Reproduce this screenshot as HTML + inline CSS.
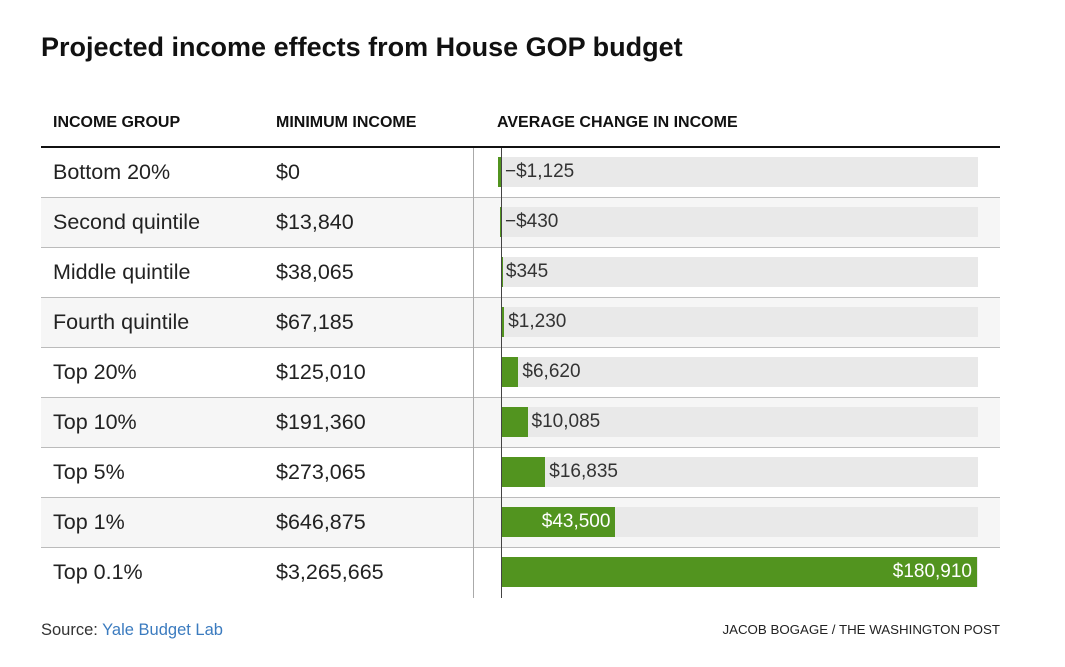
<!DOCTYPE html>
<html><head><meta charset="utf-8"><style>
body{margin:0;background:#fff;font-family:"Liberation Sans",sans-serif;color:#222;}
#wrap{position:relative;width:1065px;height:667px;}
.t{position:absolute;white-space:nowrap;}
</style></head><body>
<div id="wrap">
<div class="t" style="left:41px;top:32px;font-size:27px;font-weight:bold;color:#111;">Projected income effects from House GOP budget</div>
<div class="t" style="left:53px;top:114px;font-size:16px;font-weight:bold;color:#111;">INCOME GROUP</div>
<div class="t" style="left:276px;top:114px;font-size:16px;font-weight:bold;color:#111;">MINIMUM INCOME</div>
<div class="t" style="left:497px;top:114px;font-size:16px;font-weight:bold;color:#111;">AVERAGE CHANGE IN INCOME</div>
<div style="position:absolute;left:41px;top:146px;width:959px;height:2px;background:#111;"></div>
<div class="t" style="left:41px;top:621px;font-size:16.5px;color:#333;">Source: <span style="color:#3b7bbf;">Yale Budget Lab</span></div>
<div class="t" style="right:65px;top:622px;font-size:13.3px;color:#222;">JACOB BOGAGE / THE WASHINGTON POST</div>
</div>
<script>
const groups=["Bottom 20%","Second quintile","Middle quintile","Fourth quintile","Top 20%","Top 10%","Top 5%","Top 1%","Top 0.1%"];
const minIncome=["$0","$13,840","$38,065","$67,185","$125,010","$191,360","$273,065","$646,875","$3,265,665"];
const changes=[-1125,-430,345,1230,6620,10085,16835,43500,180910];
const labels=["\u2212$1,125","\u2212$430","$345","$1,230","$6,620","$10,085","$16,835","$43,500","$180,910"];
const wrap=document.getElementById('wrap');
const top0=148,rowH=50,x0=501,maxW=476,maxV=180910;
const xs=v=>v/maxV*maxW;
function add(css,name,txt){const d=document.createElement('div');d.style.cssText='position:absolute;'+css;


if(txt!==undefined)d.textContent=txt;wrap.appendChild(d);return d;}
groups.forEach((g,i)=>{
 const y=top0+i*rowH;
 if(i%2==1)add(`left:41px;top:${y}px;width:959px;height:${rowH}px;background:#f6f6f6;`,'row-background');
 if(i>0)add(`left:41px;top:${y-1}px;width:959px;height:1px;background:#bbb;`,'row-rule');
 add(`left:53px;top:${y+12}px;font-size:21.5px;color:#222;white-space:nowrap;`,'income-group-label',g);
 add(`left:276px;top:${y+12}px;font-size:21.5px;color:#222;white-space:nowrap;`,'minimum-income-value',minIncome[i]);
 add(`left:${x0+1}px;top:${y+9}px;width:${maxW}px;height:30px;background:#e9e9e9;`,'bar-track');
 const w=xs(changes[i]);const left=w<0?x0+w:x0;const ww=Math.max(Math.abs(w),1.5);
 add(`left:${left}px;top:${y+9}px;width:${ww}px;height:30px;background:#52941f;`,'bar-'+i);
 const inside=Math.abs(w)>80;
 if(inside){
  add(`left:${x0}px;width:${w-5}px;text-align:right;top:${y+13}px;font-size:19px;color:#fff;white-space:nowrap;`,'bar-value-label',labels[i]);
 }else{
  add(`left:${x0+Math.max(w,0)+4}px;top:${y+13}px;font-size:19px;color:#333;white-space:nowrap;`,'bar-value-label',labels[i]);
 }
});
add(`left:473px;top:${top0}px;width:1px;height:${rowH*9}px;background:#aaa;`,'column-divider');
add(`left:${x0}px;top:${top0}px;width:1px;height:${rowH*9}px;background:#444;`,'zero-line');
</script>
</body></html>
